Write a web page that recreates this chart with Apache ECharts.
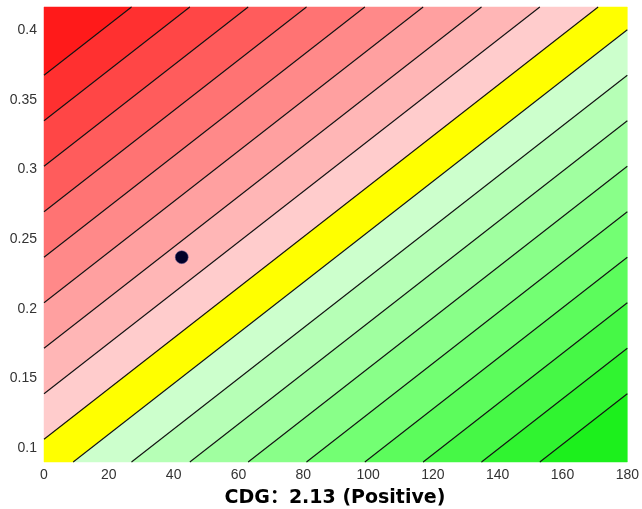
<!DOCTYPE html>
<html>
<head>
<meta charset="utf-8">
<script src="https://cdn.jsdelivr.net/npm/echarts@6/dist/echarts.min.js"></script>
<style>
html,body{margin:0;padding:0;background:#fff;}
#chart{width:642px;height:509px;}
</style>
</head>
<body>
<div id="chart"></div>
<script>
// ---- data ----
const xRange = [0, 180];
const yRange = [0.09, 0.4165];
const xTicks = [0, 20, 40, 60, 80, 100, 120, 140, 160, 180];
const yTicks = [0.1, 0.15, 0.2, 0.25, 0.3, 0.35, 0.4];
// normalized field levels of the contour lines (top-left = -1, bottom-right = +1)
const contourLevels = [-0.85, -0.75, -0.65, -0.55, -0.45, -0.35, -0.25, -0.15, -0.05,
                        0.05, 0.15, 0.25, 0.35, 0.45, 0.55, 0.65, 0.75, 0.85];
const bandColors = [
  '#ff1a1a', '#ff3030', '#ff4646', '#ff5c5c', '#ff7373', '#ff8989', '#ffa0a0', '#ffb6b6', '#ffcccc',
  '#ffff00',
  '#ccffcc', '#b6ffb6', '#a0ffa0', '#89ff89', '#73ff73', '#5cfc5c', '#46f846', '#30f430', '#1cf01c'
];
const pointX = [42.5];
const pointY = [0.237];
const titleText = 'CDG：2.13 (Positive)';

// ---- helpers ----
function clipHalf(poly, g) {
  const out = [];
  for (let i = 0; i < poly.length; i++) {
    const a = poly[i], b = poly[(i + 1) % poly.length];
    const ga = g(a), gb = g(b);
    if (ga >= 0) out.push(a);
    if ((ga >= 0) !== (gb >= 0)) {
      const t = ga / (ga - gb);
      out.push([a[0] + t * (b[0] - a[0]), a[1] + t * (b[1] - a[1])]);
    }
  }
  return out;
}
function toData(p) {
  return [xRange[0] + p[0] * (xRange[1] - xRange[0]), yRange[0] + p[1] * (yRange[1] - yRange[0])];
}

const chart = echarts.init(document.getElementById('chart'));
const bandData = bandColors.map((c, i) => [xRange[0], yRange[0], i]);
const lineData = contourLevels.map((c, i) => [xRange[0], yRange[0], i]);

chart.setOption({
  animation: false,
  backgroundColor: '#fff',
  grid: { left: 44, right: 13, top: 7, bottom: 47 },
  xAxis: {
    type: 'value', min: xRange[0], max: xRange[1], interval: 20,
    axisLine: { show: false }, axisTick: { show: false }, splitLine: { show: false },
    axisLabel: { color: '#333', fontSize: 14, fontFamily: 'Liberation Sans', margin: 6 }
  },
  yAxis: {
    type: 'value', min: yRange[0], max: yRange[1],
    axisLine: { show: false }, axisTick: { show: false }, splitLine: { show: false },
    axisLabel: {
      color: '#333', fontSize: 14, fontFamily: 'Liberation Sans', margin: 7,
      customValues: yTicks,
      formatter: v => String(+v.toFixed(2))
    }
  },
  graphic: [{
    type: 'text', x: 335, y: 498,
    style: {
      text: titleText, textAlign: 'center', textVerticalAlign: 'middle',
      font: 'bold 19px "DejaVu Sans", "Noto Sans CJK SC"', fill: '#000'
    }
  }],
  series: [
    {
      type: 'custom', z: 1, silent: true,
      data: bandData,
      encode: { x: 0, y: 1 },
      renderItem: function (params, api) {
        const i = api.value(2);
        const lo = i === 0 ? -Infinity : contourLevels[i - 1];
        const hi = i === bandColors.length - 1 ? Infinity : contourLevels[i];
        let poly = [[0, 0], [1, 0], [1, 1], [0, 1]];
        if (isFinite(lo)) poly = clipHalf(poly, p => (p[0] - p[1]) - lo);
        if (isFinite(hi)) poly = clipHalf(poly, p => hi - (p[0] - p[1]));
        const pts = poly.map(p => api.coord(toData(p)));
        return { type: 'polygon', shape: { points: pts }, style: { fill: bandColors[i], stroke: bandColors[i], lineWidth: 0.5 } };
      }
    },
    {
      type: 'custom', z: 2, silent: true,
      data: lineData,
      encode: { x: 0, y: 1 },
      renderItem: function (params, api) {
        const c = contourLevels[api.value(2)];
        const u0 = Math.max(0, c), u1 = Math.min(1, 1 + c);
        const p0 = api.coord(toData([u0, u0 - c]));
        const p1 = api.coord(toData([u1, u1 - c]));
        return { type: 'line', shape: { x1: p0[0], y1: p0[1], x2: p1[0], y2: p1[1] }, style: { stroke: '#111', lineWidth: 1.1 } };
      }
    },
    {
      type: 'scatter', z: 3,
      data: pointX.map((x, i) => [x, pointY[i]]),
      symbolSize: 13,
      itemStyle: { color: '#000028', opacity: 1, borderColor: '#6a5c98', borderWidth: 0.5 }
    }
  ]
});
</script>
</body>
</html>
